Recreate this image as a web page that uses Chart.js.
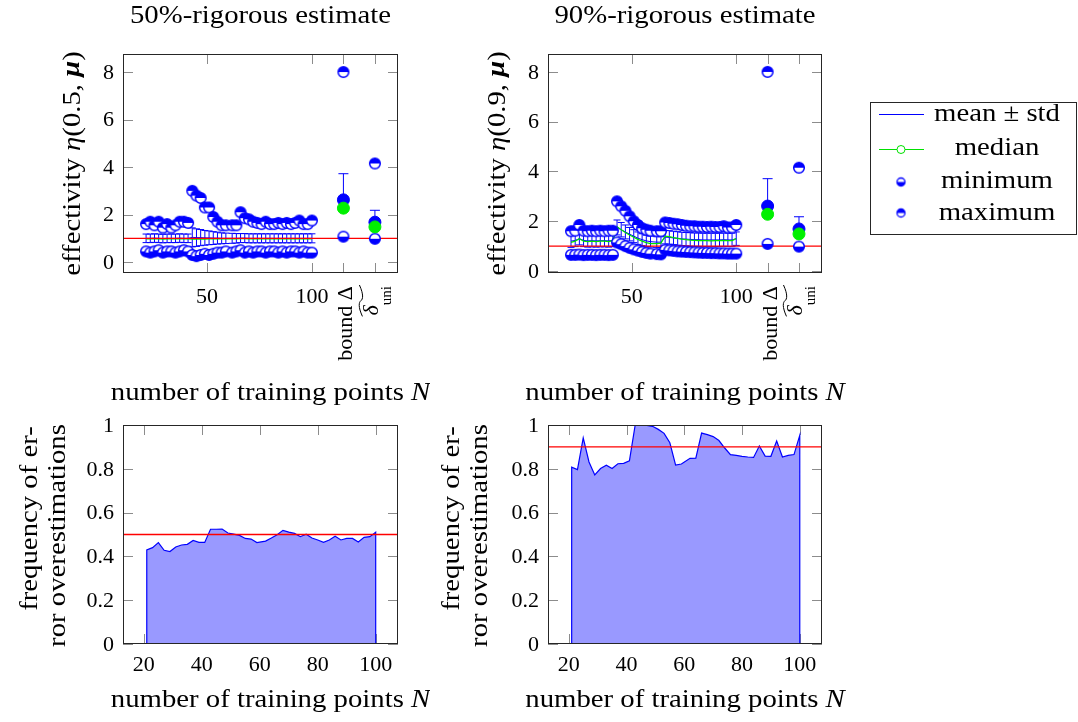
<!DOCTYPE html>
<html lang="en">
<head>
<meta charset="utf-8">
<title>Effectivity of rigorous error estimates</title>
<script src="https://cdn.jsdelivr.net/npm/chart.js@4.4.1/dist/chart.umd.min.js"></script>
<style>
  html, body { margin: 0; padding: 0; background: #fff; }
  #page { position: relative; width: 1078px; height: 722px; overflow: hidden; }
  #page canvas { position: absolute; }
</style>
</head>
<body>
<div id="page">
  <canvas id="eff50" width="430" height="410" style="left:0;top:0"></canvas>
  <canvas id="eff90" width="648" height="410" style="left:430px;top:0"></canvas>
  <canvas id="freq50" width="430" height="312" style="left:0;top:410px"></canvas>
  <canvas id="freq90" width="648" height="312" style="left:430px;top:410px"></canvas>
</div>
<script>
// training set sizes N
const trainSizes = [21, 23, 25, 27, 29, 31, 33, 35, 37, 39, 41, 43, 45, 47, 49, 51, 53, 55, 57, 59,
  62, 64, 66, 68, 70, 72, 74, 76, 78, 80, 82, 84, 86, 88, 90, 92, 94, 96, 98, 100];

// effectivity of the 50%-rigorous estimate
const eff50Max = [1.60, 1.70, 1.55, 1.70, 1.45, 1.60, 1.45, 1.55, 1.70, 1.70, 1.65, 3.00, 2.80, 2.70, 2.30, 2.30, 1.90, 1.70, 1.55, 1.55,
  1.55, 1.55, 2.10, 1.85, 1.80, 1.70, 1.65, 1.60, 1.70, 1.60, 1.60, 1.65, 1.60, 1.65, 1.60, 1.65, 1.75, 1.60, 1.60, 1.75];
const eff50Min = [0.45, 0.40, 0.45, 0.50, 0.40, 0.45, 0.45, 0.40, 0.45, 0.50, 0.45, 0.30, 0.25, 0.30, 0.35, 0.30, 0.35, 0.40, 0.40, 0.45,
  0.40, 0.45, 0.50, 0.40, 0.45, 0.40, 0.45, 0.45, 0.40, 0.45, 0.45, 0.40, 0.45, 0.40, 0.45, 0.45, 0.40, 0.45, 0.40, 0.40];
const eff50Mean = [1.00, 1.00, 1.01, 1.00, 0.99, 1.00, 1.00, 1.00, 1.01, 1.00, 1.00, 1.04, 1.03, 1.03, 1.02, 1.02, 1.01, 1.01, 1.00, 1.00,
  1.00, 1.00, 1.01, 1.01, 1.00, 1.00, 1.00, 1.00, 1.00, 1.00, 1.00, 1.00, 1.00, 1.00, 1.00, 1.00, 1.00, 1.00, 1.00, 1.00];
const eff50Std = [0.18, 0.18, 0.18, 0.18, 0.18, 0.18, 0.18, 0.18, 0.18, 0.18, 0.18, 0.40, 0.37, 0.34, 0.31, 0.29, 0.27, 0.25, 0.23, 0.22,
  0.21, 0.20, 0.19, 0.19, 0.19, 0.19, 0.19, 0.19, 0.19, 0.19, 0.19, 0.19, 0.19, 0.19, 0.19, 0.19, 0.19, 0.19, 0.19, 0.19];
const eff50Median = [0.98, 0.99, 0.98, 0.98, 0.97, 0.98, 0.98, 0.98, 0.99, 0.98, 0.98, 0.97, 0.97, 0.97, 0.97, 0.98, 0.98, 0.98, 0.98, 0.98,
  0.98, 0.98, 0.99, 0.99, 0.98, 0.98, 0.98, 0.98, 0.98, 0.98, 0.98, 0.98, 0.98, 0.98, 0.98, 0.98, 0.98, 0.98, 0.98, 0.98];

// effectivity of the 90%-rigorous estimate
const eff90Max = [1.60, 1.62, 1.85, 1.62, 1.60, 1.62, 1.60, 1.62, 1.60, 1.62, 1.62, 2.80, 2.60, 2.42, 2.20, 2.00, 1.85, 1.72, 1.66, 1.62,
  1.60, 1.60, 1.95, 1.93, 1.90, 1.88, 1.85, 1.82, 1.80, 1.80, 1.78, 1.78, 1.77, 1.78, 1.77, 1.77, 1.80, 1.75, 1.75, 1.85];
const eff90Min = [0.65, 0.65, 0.66, 0.64, 0.65, 0.65, 0.64, 0.65, 0.65, 0.64, 0.65, 1.15, 1.08, 1.00, 0.93, 0.87, 0.82, 0.77, 0.73, 0.70,
  0.68, 0.67, 0.85, 0.83, 0.81, 0.79, 0.78, 0.77, 0.76, 0.75, 0.74, 0.73, 0.73, 0.72, 0.72, 0.71, 0.71, 0.70, 0.70, 0.70];
const eff90Mean = [1.20, 1.23, 1.30, 1.23, 1.21, 1.22, 1.21, 1.22, 1.22, 1.21, 1.23, 1.75, 1.66, 1.57, 1.48, 1.40, 1.32, 1.26, 1.21, 1.18,
  1.16, 1.16, 1.36, 1.35, 1.33, 1.31, 1.29, 1.28, 1.27, 1.26, 1.26, 1.25, 1.25, 1.25, 1.25, 1.25, 1.26, 1.25, 1.25, 1.30];
const eff90Std = [0.25, 0.25, 0.25, 0.25, 0.25, 0.25, 0.25, 0.25, 0.25, 0.25, 0.25, 0.30, 0.29, 0.28, 0.27, 0.26, 0.25, 0.24, 0.23, 0.22,
  0.22, 0.22, 0.27, 0.27, 0.27, 0.27, 0.27, 0.27, 0.27, 0.27, 0.27, 0.27, 0.27, 0.27, 0.27, 0.27, 0.27, 0.27, 0.27, 0.27];
const eff90Median = [1.15, 1.20, 1.30, 1.20, 1.18, 1.20, 1.18, 1.20, 1.20, 1.18, 1.22, 1.78, 1.66, 1.55, 1.45, 1.36, 1.27, 1.20, 1.14, 1.10,
  1.10, 1.12, 1.40, 1.38, 1.34, 1.31, 1.28, 1.26, 1.24, 1.23, 1.22, 1.22, 1.22, 1.21, 1.22, 1.22, 1.23, 1.22, 1.22, 1.30];

// comparison estimators, placed right of the N axis: bound Δ and δ̃_uni
const refPos = [115, 130];
const ref50Max = [8.00, 4.15];
const ref50Min = [1.07, 0.98];
const ref50Mean = [2.62, 1.68];
const ref50StdUp = [1.10, 0.50];
const ref50Median = [2.27, 1.48];
const ref90Max = [8.00, 4.15];
const ref90Min = [1.09, 0.98];
const ref90Mean = [2.61, 1.69];
const ref90StdUp = [1.10, 0.49];
const ref90Median = [2.28, 1.49];

// frequency of error overestimation
const freq50 = [0.430, 0.440, 0.463, 0.428, 0.422, 0.443, 0.452, 0.455, 0.473, 0.464, 0.464, 0.524, 0.524, 0.525, 0.507, 0.502, 0.496, 0.482, 0.479, 0.463,
  0.470, 0.484, 0.499, 0.519, 0.511, 0.505, 0.490, 0.501, 0.484, 0.475, 0.464, 0.475, 0.492, 0.475, 0.482, 0.482, 0.466, 0.487, 0.490, 0.510];
const freq90 = [0.807, 0.796, 0.941, 0.831, 0.772, 0.801, 0.816, 0.801, 0.823, 0.825, 0.836, 1.000, 1.000, 0.998, 0.994, 0.980, 0.962, 0.919, 0.817, 0.822,
  0.848, 0.849, 0.963, 0.956, 0.947, 0.929, 0.895, 0.865, 0.861, 0.857, 0.854, 0.852, 0.904, 0.858, 0.857, 0.927, 0.854, 0.861, 0.865, 0.953];

// axis ticks
const effXTicks = [50, 100];
const effYTicks = [0, 2, 4, 6, 8];
const freqXTicks = [20, 40, 60, 80, 100];
const freqYTicks = [0, 0.2, 0.4, 0.6, 0.8, 1];
const freqYLabels = ['0', '0.2', '0.4', '0.6', '0.8', '1'];

const BLUE = '#0000ff';
const GREEN = 'rgb(0,225,0)';
const RED = '#ff0000';
const AREA = 'rgb(153,153,255)';
const FRAME = '#262626';
const TICK = '#8c8c8c';
const TICK_LEN = 10;
const SERIF = '"Liberation Serif", "Times New Roman", serif';
const font = (size, style) => (style ? style + ' ' : '') + size + 'px ' + SERIF;
const TXT = 25;      // labels, titles, legend
const TXT_HS = 1.15; // horizontal stretch for the label font
const TCK = 22;      // tick labels

const pts = (xs, ys) => xs.map((x, i) => ({ x, y: ys[i] }));

// circle with one half filled blue, the other white
function halfCircle(r, topFilled, lw) {
  const c = document.createElement('canvas');
  const s = Math.ceil(2 * r + 2 * lw + 2);
  c.width = s; c.height = s;
  const g = c.getContext('2d');
  const m = s / 2;
  g.fillStyle = '#fff';
  g.beginPath(); g.arc(m, m, r, 0, 2 * Math.PI); g.fill();
  g.fillStyle = BLUE;
  g.beginPath();
  if (topFilled) g.arc(m, m, r, Math.PI, 2 * Math.PI);
  else g.arc(m, m, r, 0, Math.PI);
  g.closePath(); g.fill();
  g.strokeStyle = BLUE; g.lineWidth = lw;
  g.beginPath(); g.arc(m, m, r, 0, 2 * Math.PI); g.stroke();
  return c;
}
const minMark = halfCircle(5.3, false, 1.5);
const maxMark = halfCircle(5.3, true, 1.5);

// text made of runs with their own fonts, optionally stretched
function richWidth(ctx, segs) {
  let w = 0;
  segs.forEach(s => { ctx.font = s.f; w += ctx.measureText(s.t).width; });
  return w;
}
function drawRich(ctx, segs, x, y, align, hs) {
  hs = hs || 1;
  const w = richWidth(ctx, segs) * hs;
  const x0 = align === 'center' ? x - w / 2 : align === 'right' ? x - w : x;
  ctx.save();
  ctx.translate(x0, y);
  ctx.scale(hs, 1);
  ctx.textAlign = 'left';
  let cx = 0;
  segs.forEach(s => {
    ctx.font = s.f;
    ctx.fillText(s.t, cx, s.dy || 0);
    cx += ctx.measureText(s.t).width;
  });
  ctx.restore();
  return w;
}
function drawRotated(ctx, segs, x, y, align, hs) {
  ctx.save();
  ctx.translate(x, y);
  ctx.rotate(-Math.PI / 2);
  drawRich(ctx, segs, 0, 0, align, hs);
  ctx.restore();
}

const xTitle = [{ t: 'number of training points ', f: font(TXT) }, { t: 'N', f: font(TXT, 'italic') }];

// frame, inward ticks, error bars and all texts of one axis
function axisDecor(cfg) {
  return {
    id: 'axisDecor',
    beforeDatasetsDraw(chart) {
      const { ctx, chartArea: a, scales: { x, y } } = chart;
      ctx.save();
      ctx.strokeStyle = TICK;
      ctx.lineWidth = 1;
      ctx.beginPath();
      cfg.xMarks.forEach(v => {
        const p = Math.round(x.getPixelForValue(v)) + 0.5;
        ctx.moveTo(p, a.bottom); ctx.lineTo(p, a.bottom - TICK_LEN);
        ctx.moveTo(p, a.top); ctx.lineTo(p, a.top + TICK_LEN);
      });
      cfg.yTicks.forEach(v => {
        const p = Math.round(y.getPixelForValue(v)) + 0.5;
        ctx.moveTo(a.left, p); ctx.lineTo(a.left + TICK_LEN, p);
        ctx.moveTo(a.right, p); ctx.lineTo(a.right - TICK_LEN, p);
      });
      ctx.stroke();

      (cfg.errorBars || []).forEach(eb => {
        ctx.strokeStyle = BLUE;
        ctx.lineWidth = 1;
        ctx.beginPath();
        eb.xs.forEach((xv, i) => {
          const px = x.getPixelForValue(xv);
          const top = y.getPixelForValue(eb.mean[i] + eb.std[i]);
          const bot = y.getPixelForValue(eb.plusOnly ? eb.mean[i] : eb.mean[i] - eb.std[i]);
          ctx.moveTo(px, top); ctx.lineTo(px, bot);
          ctx.moveTo(px - eb.cap, top); ctx.lineTo(px + eb.cap, top);
          if (!eb.plusOnly) { ctx.moveTo(px - eb.cap, bot); ctx.lineTo(px + eb.cap, bot); }
        });
        ctx.stroke();
      });
      ctx.restore();
    },
    afterDatasetsDraw(chart) {
      const { ctx, chartArea: a } = chart;
      ctx.save();
      ctx.strokeStyle = FRAME;
      ctx.lineWidth = 1;
      ctx.strokeRect(a.left + 0.5, a.top + 0.5, a.right - a.left - 1, a.bottom - a.top - 1);
      ctx.restore();
    },
    afterDraw(chart) {
      const { ctx, chartArea: a, scales: { x, y } } = chart;
      const cx = (a.left + a.right) / 2;
      const cy = (a.top + a.bottom) / 2;
      ctx.save();
      ctx.fillStyle = '#000';

      // y tick labels
      ctx.textBaseline = 'middle';
      cfg.yTicks.forEach((v, i) => {
        drawRich(ctx, [{ t: cfg.yLabels[i], f: font(TCK) }], a.left - 9, y.getPixelForValue(v) + 1, 'right');
      });
      // x tick labels
      cfg.xTicks.forEach(v => {
        drawRich(ctx, [{ t: String(v), f: font(TCK) }], x.getPixelForValue(v), a.bottom + cfg.xLabelGap, 'center');
      });
      if (cfg.refLabels) cfg.refLabels(ctx, x, a);

      // title
      ctx.textBaseline = 'middle';
      if (cfg.title) drawRich(ctx, [{ t: cfg.title, f: font(TXT) }], cx, 16, 'center', TXT_HS);
      // axis titles
      cfg.yTitle.forEach(line => drawRotated(ctx, line.segs, line.x, cy + (line.dy || 0), 'center', TXT_HS));
      drawRich(ctx, xTitle, cx + cfg.xTitleShift, cfg.xTitleY, 'center', TXT_HS);

      if (cfg.legend) cfg.legend(ctx);
      ctx.restore();
    }
  };
}

// rotated tick labels for the two comparison estimators
function refTickLabels(ctx, x, a) {
  const top = a.bottom + 13;
  ctx.textBaseline = 'alphabetic';
  // bound Δ
  drawRotated(ctx, [{ t: 'bound Δ', f: font(TCK) }], x.getPixelForValue(refPos[0]) + 9, top, 'right');
  // δ̃_uni
  const px = x.getPixelForValue(refPos[1]);
  ctx.save();
  ctx.translate(px + 3, top);
  ctx.rotate(-Math.PI / 2);
  const segs = [{ t: 'δ', f: font(TCK, 'italic') }, { t: 'uni', f: font(15), dy: 13 }];
  const w = richWidth(ctx, segs);
  drawRich(ctx, segs, 0, 0, 'right');
  ctx.strokeStyle = '#000';
  ctx.lineWidth = 1;
  ctx.beginPath();
  const ty = -17;
  ctx.moveTo(-w - 1, ty + 1.5);
  ctx.bezierCurveTo(-w * 0.7, ty - 3, -w * 0.55, ty - 2, -w * 0.5, ty);
  ctx.bezierCurveTo(-w * 0.45, ty + 2, -w * 0.3, ty + 3, 1, ty - 1.5);
  ctx.stroke();
  ctx.restore();
}

function legendBox(ox) {
  return ctx => {
    const L = 870 - ox, R = 1076 - ox, T = 102, B = 234;
    ctx.save();
    ctx.fillStyle = '#fff';
    ctx.fillRect(L, T, R - L, B - T);
    ctx.strokeStyle = FRAME;
    ctx.lineWidth = 1;
    ctx.strokeRect(L + 0.5, T + 0.5, R - L, B - T);
    const ix0 = 879 - ox, ix1 = 924 - ox, ic = 901 - ox, tx = 997 - ox;
    // mean ± std
    ctx.strokeStyle = BLUE;
    ctx.beginPath(); ctx.moveTo(ix0, 114.5); ctx.lineTo(ix1, 114.5); ctx.stroke();
    // median
    ctx.strokeStyle = GREEN;
    ctx.beginPath(); ctx.moveTo(ix0, 149.5); ctx.lineTo(ix1, 149.5); ctx.stroke();
    ctx.fillStyle = '#fff';
    ctx.beginPath(); ctx.arc(ic, 149.5, 4, 0, 2 * Math.PI); ctx.fill(); ctx.stroke();
    // minimum / maximum
    const smallMin = halfCircle(4, false, 1.3), smallMax = halfCircle(4, true, 1.3);
    ctx.drawImage(smallMin, ic - smallMin.width / 2, 182 - smallMin.height / 2);
    ctx.drawImage(smallMax, ic - smallMax.width / 2, 213 - smallMax.height / 2);
    ctx.fillStyle = '#000';
    ctx.textBaseline = 'alphabetic';
    [['mean ± std', 121], ['median', 155], ['minimum', 188], ['maximum', 220]].forEach(([t, by]) => {
      drawRich(ctx, [{ t, f: font(TXT) }], tx, by, 'center', TXT_HS);
    });
    ctx.restore();
  };
}

const effXRange = [10, 141];
const freqXRange = [12.8, 107.7];

function effChart(id, d, yRange, pad, decor) {
  return new Chart(document.getElementById(id), {
    type: 'scatter',
    data: {
      datasets: [
        { data: pts(trainSizes, d.mean), showLine: true, borderColor: BLUE, borderWidth: 1, pointRadius: 0, order: 7 },
        { data: pts(trainSizes, d.median), showLine: true, borderColor: GREEN, borderWidth: 1.2, pointRadius: 0, order: 6 },
        { data: [{ x: effXRange[0], y: 1 }, { x: effXRange[1], y: 1 }], showLine: true, borderColor: RED, borderWidth: 1.3, pointRadius: 0, order: 5 },
        { data: pts(trainSizes.concat(refPos), d.min.concat(d.refMin)), pointStyle: minMark, pointRadius: 6, order: 4 },
        { data: pts(trainSizes.concat(refPos), d.max.concat(d.refMax)), pointStyle: maxMark, pointRadius: 6, order: 3 },
        { data: pts(refPos, d.refMean), pointStyle: 'circle', pointRadius: 6, backgroundColor: BLUE, borderColor: BLUE, order: 2 },
        { data: pts(refPos, d.refMedian), pointStyle: 'circle', pointRadius: 6, backgroundColor: 'rgb(0,240,0)', borderColor: 'rgb(0,240,0)', order: 1 }
      ]
    },
    options: {
      responsive: false,
      animation: false,
      events: [],
      layout: { padding: pad },
      plugins: { legend: { display: false }, tooltip: { enabled: false } },
      scales: {
        x: { type: 'linear', min: effXRange[0], max: effXRange[1], display: false },
        y: { type: 'linear', min: yRange[0], max: yRange[1], display: false }
      }
    },
    plugins: [axisDecor(Object.assign({
      xMarks: effXTicks.concat(refPos),
      xTicks: effXTicks,
      yTicks: effYTicks,
      yLabels: effYTicks.map(String),
      xLabelGap: 24,
      xTitleY: 393,
      refLabels: refTickLabels,
      errorBars: [
        { xs: trainSizes, mean: d.mean, std: d.std, cap: 3.5 },
        { xs: refPos, mean: d.refMean, std: d.refStdUp, cap: 5, plusOnly: true }
      ]
    }, decor))]
  });
}

function freqChart(id, values, ref, pad, decor) {
  const first = trainSizes[0], last = trainSizes[trainSizes.length - 1];
  // closed area: down to zero at both ends
  const area = [{ x: first, y: 0 }].concat(pts(trainSizes, values), [{ x: last, y: 0 }]);
  return new Chart(document.getElementById(id), {
    type: 'scatter',
    data: {
      datasets: [
        { data: [{ x: freqXRange[0], y: ref }, { x: freqXRange[1], y: ref }], showLine: true, borderColor: RED, borderWidth: 1.3, pointRadius: 0, order: 1 },
        { data: area, showLine: true, fill: 'origin', backgroundColor: AREA, borderColor: BLUE, borderWidth: 1.2, pointRadius: 0, order: 2 }
      ]
    },
    options: {
      responsive: false,
      animation: false,
      events: [],
      layout: { padding: pad },
      plugins: { legend: { display: false }, tooltip: { enabled: false } },
      scales: {
        x: { type: 'linear', min: freqXRange[0], max: freqXRange[1], display: false },
        y: { type: 'linear', min: 0, max: 1, display: false }
      }
    },
    plugins: [axisDecor(Object.assign({
      xMarks: freqXTicks,
      xTicks: freqXTicks,
      yTicks: freqYTicks,
      yLabels: freqYLabels,
      xLabelGap: 21,
      xTitleY: 290
    }, decor))]
  });
}

const effYTitle = (level, x) => [{ x, segs: [
  { t: 'effectivity ', f: font(TXT) }, { t: 'η', f: font(TXT, 'italic') },
  { t: '(' + level + ', ', f: font(TXT) }, { t: 'μ', f: font(TXT, 'bold italic') }, { t: ')', f: font(TXT) }
] }];
const freqYTitle = (x) => [
  { x, dy: -16, segs: [{ t: 'frequency of er-', f: font(TXT) }] },
  { x: x + 28, dy: 1, segs: [{ t: 'ror overestimations', f: font(TXT) }] }
];

effChart('eff50',
  { max: eff50Max, min: eff50Min, mean: eff50Mean, std: eff50Std, median: eff50Median,
    refMax: ref50Max, refMin: ref50Min, refMean: ref50Mean, refStdUp: ref50StdUp, refMedian: ref50Median },
  [-0.46, 8.76], { left: 123, top: 54, right: 32, bottom: 137 },
  { title: '50%-rigorous estimate', yTitle: effYTitle('0.5', 73), xTitleShift: 10 });

effChart('eff90',
  { max: eff90Max, min: eff90Min, mean: eff90Mean, std: eff90Std, median: eff90Median,
    refMax: ref90Max, refMin: ref90Min, refMean: ref90Mean, refStdUp: ref90StdUp, refMedian: ref90Median },
  [-0.08, 8.72], { left: 118, top: 54, right: 256, bottom: 137 },
  { title: '90%-rigorous estimate', yTitle: effYTitle('0.9', 68), xTitleShift: 0, legend: legendBox(430) });

freqChart('freq50', freq50, 0.5, { left: 123, top: 15, right: 32, bottom: 78 },
  { yTitle: freqYTitle(30), xTitleShift: 10 });

freqChart('freq90', freq90, 0.9, { left: 118, top: 15, right: 256, bottom: 78 },
  { yTitle: freqYTitle(22), xTitleShift: 0 });
</script>
</body>
</html>
